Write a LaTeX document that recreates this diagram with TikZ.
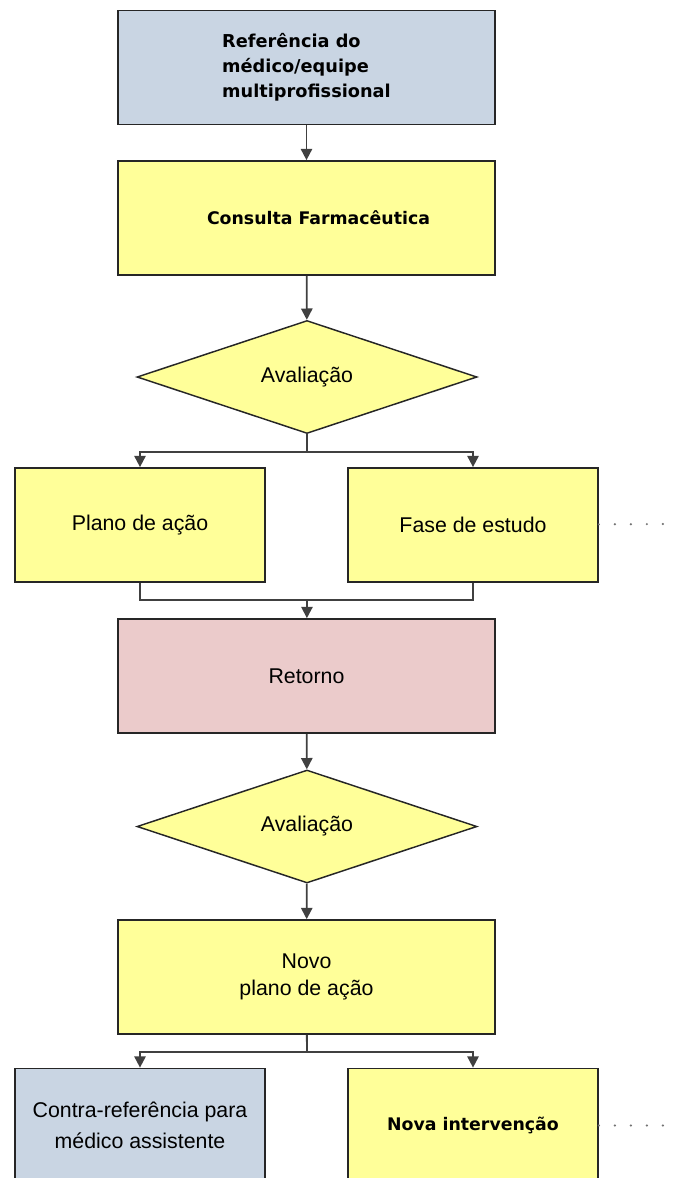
\documentclass[tikz,border=0pt]{standalone}
\usepackage{fontspec}
\setmainfont{Liberation Sans}
\newfontfamily\dvfont{DejaVu Sans}
\usepackage{tikz}
\usetikzlibrary{positioning, shapes.geometric, arrows.meta}
\definecolor{boxyellow}{HTML}{FFFF99}
\definecolor{boxblue}{HTML}{C9D5E3}
\definecolor{boxpink}{HTML}{EBCBCB}
\newcommand{\flfont}[1]{{\dvfont\bfseries #1}}

\begin{document}
\begin{tikzpicture}[x=0.75pt,y=-0.75pt]
            \tikzset {
                basic node/.style={
                        draw=black!85,
                        line width=1.3pt,
                        font=\fontsize{16pt}{20.25pt}\selectfont,
                        align=center,
                        inner sep=0pt,
                        minimum width=282.75pt,
                        minimum height=85.5pt,
                        fill=boxyellow
                    },
                side node/.style={
                        basic node,
                        minimum width=187.5pt
                    },
                decision/.style={
                        basic node,
                        line width=1.1pt,
                        diamond,
                        minimum width=255pt,
                        minimum height=84.75pt
                    },
                arr/.style={draw=black!75, line width=1.4pt, -{Triangle[length=8.5pt,width=8.5pt]}},
                link/.style={draw=black!75, line width=1.4pt},
                more/.style={draw=black!55, line width=1.8pt, line cap=round, dash pattern=on 0pt off 12pt}
            }
            \useasboundingbox (0,0) rectangle (673,1178);

            % top
            \node[basic node, fill=boxblue, align=left, font=\fontsize{13.3pt}{18.75pt}\selectfont] (ref) at (306.5,67.5) {\flfont{Refer\^encia do}\\\flfont{m\'edico/equipe}\\\flfont{multiprofissional}};
            \node[basic node, font=\fontsize{13pt}{18.75pt}\selectfont] (consulta) at (306.5,218) {\hspace*{18pt}\flfont{Consulta Farmac\^eutica}};
            \node[decision] (aval1) at (307,377) {Avalia\c{c}\~ao};

            % first split
            \node[side node] (plano) at (140,525) {Plano de a\c{c}\~ao};
            \node[side node] (fase) at (473,525) {Fase de estudo};
            \node[basic node, fill=boxpink] (retorno) at (306.5,676) {Retorno};

            % second round
            \node[decision] (aval2) at (307,826.5) {Avalia\c{c}\~ao};
            \node[basic node] (novo) at (306.5,977) {Novo\\plano de a\c{c}\~ao};
            \node[side node, fill=boxblue, font=\fontsize{16pt}{23pt}\selectfont] (contra) at (140,1125.5) {Contra-refer\^encia para\\m\'edico assistente};
            \node[side node, font=\fontsize{13pt}{18.75pt}\selectfont] (nova) at (473,1125.5) {\flfont{Nova interven\c{c}\~ao}};

            \coordinate (split1) at (307,452);
            \coordinate (join1) at (307,600);
            \coordinate (split2) at (307,1052);
            \coordinate (more1) at (665,524);
            \coordinate (more2) at (665,1125.5);

            % connectors
            \draw[arr] (ref) -- (consulta);
            \draw[arr] (consulta) -- (aval1);
            \draw[link] (aval1) -- (split1);
            \draw[arr] (split1) -| (plano);
            \draw[arr] (split1) -| (fase);
            \draw[link] (plano) |- (join1) -| (fase);
            \draw[arr] (join1) -- (retorno);
            \draw[arr] (retorno) -- (aval2);
            \draw[arr] (aval2) -- (novo);
            \draw[link] (novo) -- (split2);
            \draw[arr] (split2) -| (contra);
            \draw[arr] (split2) -| (nova);
            \draw[more] (fase) -- (more1);
            \draw[more] (nova) -- (more2);
        \end{tikzpicture}
\end{document}
